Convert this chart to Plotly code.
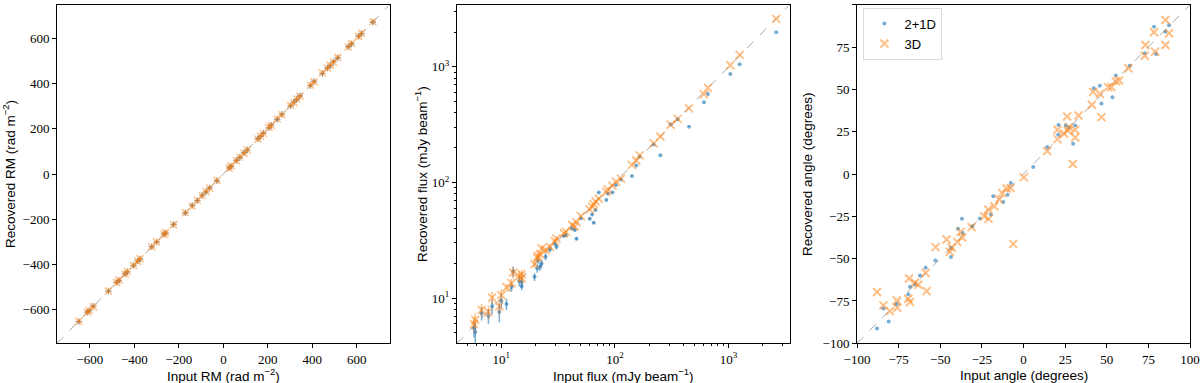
import math
import plotly.graph_objects as go

BLUE = "rgba(31,119,180,0.6)"
ORANGE = "rgba(255,127,14,0.5)"

# --- panel 1: rotation measure ---
rm_in = [-650, -612, -603, -585, -517, -480, -470, -442, -432, -404, -385, -375,
         -322, -300, -267, -260, -224, -171, -140, -117, -95, -78, -62, -29,
         26, 35, 59, 74, 93, 107, 155, 167, 180, 205, 215, 242, 263, 302, 317,
         330, 344, 391, 408, 445, 468, 480, 495, 514, 562, 576, 608, 621, 672]
rm_rec_21d = [-652, -610, -604, -584, -518, -479, -471, -441, -433, -405, -384, -376,
              -321, -301, -266, -261, -223, -172, -139, -118, -94, -79, -61, -30,
              27, 34, 60, 73, 94, 106, 156, 166, 181, 204, 216, 241, 264, 301, 318,
              329, 345, 390, 409, 444, 469, 479, 496, 513, 563, 575, 609, 620, 671]
rm_rec_3d = [-651, -611, -603, -586, -517, -480, -469, -442, -431, -404, -386, -374,
             -322, -300, -268, -259, -224, -171, -141, -117, -95, -77, -62, -29,
             26, 36, 59, 75, 92, 107, 154, 168, 179, 206, 215, 243, 262, 303, 316,
             331, 344, 392, 407, 446, 467, 481, 494, 515, 561, 577, 607, 622, 673]
rm_err = 14

# --- panel 2: flux ---
flux_in = [2625, 1250, 1035, 657, 607, 448, 356, 309, 251, 219, 165, 154, 141,
           113, 102, 95, 86.5, 84, 72, 67.4, 65, 63, 60, 50.1, 45.9, 44.4, 41.8,
           37, 35.5, 30.6, 29.6, 26.8, 24.5, 22.6, 21.9, 21.0, 20.7, 19.6, 15.1,
           15.1, 14.4, 12.7, 12.3, 11.1, 10.0, 9.6, 8.3, 7.7, 6.7, 5.9, 5.75]
flux_rec_3d = [2606, 1270, 1033, 658, 580, 438, 355, 316, 250, 218, 172, 155, 142,
               108, 102, 94, 87.3, 83, 72.4, 68.7, 65, 61.8, 58.6, 51.3, 45.2, 41.5,
               43.1, 37.5, 36.3, 32.7, 31.0, 27.8, 26.0, 26.9, 24.0, 23.1, 22.3,
               19.7, 16.1, 14.8, 15.5, 16.6, 13.5, 12.4, 10.6, 8.5, 10.1, 7.6, 7.9,
               6.5, 5.96]
flux_rec_21d = [1995, 1055, 869, 583, 494, 304, 352, 318, 172, 213, 168, 140, 114,
                106, 95, 82, 80.5, 70.5, 82, 57.8, 44.9, 53, 48.6, 49, 32.7, 38.8,
                40.1, 35.1, 34.6, 27.8, 29.7, 26.5, 22.8, 19.9, 18.7, 21.3, 18.1,
                15.3, 12.7, 13.8, 14.1, 17.0, 12.5, 8.9, 9.5, 7.6, 8.5, 7.0, 7.4,
                5.1, 5.5]
flux_err_3d = [3, 2, 2, 2, 2, 2, 1, 1, 1, 1, 1, 1, 1, 1, 1, 1, 1, 1, 1, 1, 1, 1,
               1, 1, 1, 1, 1, 1, 1, 1.5, 1.5, 1.5, 1.5, 1.5, 1.5, 1.5, 1.5, 1.5,
               1.5, 1.5, 1.5, 1.8, 1.2, 1.0, 1.2, 1.2, 1.2, 1.0, 1.0, 0.9, 0.9]
flux_err_21d = [3, 2, 2, 2, 2, 2, 1, 1, 1, 1, 1, 1, 1, 1, 1, 1, 1, 1, 1, 1, 1, 1,
                1, 1, 1, 1, 1, 1, 1, 1.5, 1.5, 1.5, 1.5, 1.5, 1.5, 1.5, 1.5, 1.2,
                1.0, 1.4, 1.4, 1.8, 1.2, 1.0, 1.5, 1.4, 1.2, 1.0, 1.0, 1.0, 0.9]

# --- panel 3: polarisation angle ---
ang_in_3d = [85.2, 78.4, 87.4, 73.2, 79.0, 85.2, 72.8, 63.0, 57.4, 55.4, 52.8,
             50.8, 45.8, 46.8, 41.8, 41.0, 33.0, 26.2, 31.0, 31.0, 26.6, 24.4,
             20.4, 20.4, 27.2, 29.6, 14.2, 0.2, -7.8, -10.2, -12.8, -14.6, -17.6,
             -21.2, -21.0, -23.6, -31.2, -36.8, -39.8, -37.8, -43.2, -52.8, -46.2,
             -44.2, -6.2, -58.8, -58.2, -63.2, -65.2, -68.8, -68.2, -69.2, -76.2,
             -75.8, -80.2, -84.2, -88.0]
ang_rec_3d = [91.0, 83.7, 83.1, 76.2, 72.3, 76.2, 69.9, 62.5, 55.2, 54.8, 51.3,
              51.3, 47.3, 33.6, 48.5, 40.9, 34.6, 34.0, 26.1, 21.6, 25.7, 23.8,
              26.1, 20.6, 27.7, 5.9, 13.6, -2.0, -8.3, -8.6, -11.2, -15.1, -19.1,
              -21.0, -26.5, -25.0, -31.4, -37.5, -40.1, -34.2, -43.6, -43.2, -38.7,
              -46.0, -41.3, -58.3, -69.2, -65.4, -64.2, -61.7, -75.6, -73.7, -74.7,
              -79.0, -81.0, -77.6, -69.7]
ang_in_21d = [78.4, 85.2, 79.6, 72.8, 87.4, 63.8, 55.4, 53.4, 46.8, 45.8, 42.2,
              21.0, 25.4, 27.2, 29.8, 31.0, 14.2, 20.8, 5.8, -7.6, -9.6, -12.2,
              -18.2, -19.6, -26.2, -30.8, -37.0, -39.4, -36.6, -43.6, -43.6, -53.0,
              -58.8, -62.2, -65.2, -68.2, -69.2, -76.2, -81.0, -84.2, -88.0]
ang_rec_21d = [87.0, 84.1, 70.9, 71.3, 87.8, 64.0, 58.2, 45.4, 41.7, 52.1, 50.7,
               28.9, 28.7, 27.5, 17.9, 28.7, 15.9, 23.2, 4.1, -5.3, -12.2, -16.5,
               -13.2, -24.0, -26.3, -30.8, -26.5, -32.4, -34.8, -49.1, -43.6, -51.1,
               -55.4, -59.9, -65.2, -66.6, -71.1, -77.0, -87.2, -79.4, -91.2]

rm_lim = [-748, 748]
flux_lim = [4.07, 3450]
ang_lim = [-100, 100]

x_titles = ["Input RM (rad m<sup>−2</sup>)", "Input flux (mJy beam<sup>−1</sup>)",
            "Input angle (degrees)"]
y_titles = ["Recovered RM (rad m<sup>−2</sup>)", "Recovered flux (mJy beam<sup>−1</sup>)",
            "Recovered angle (degrees)"]

DIAG = dict(color="rgba(150,150,150,0.8)", width=1, dash="dash")

fig = go.Figure()

# panel 1
fig.add_trace(go.Scatter(x=rm_lim, y=rm_lim, mode="lines", showlegend=False, line=DIAG,
                         xaxis="x", yaxis="y", hoverinfo="skip"))
fig.add_trace(go.Scatter(x=rm_in, y=rm_rec_21d, mode="markers", showlegend=False,
                         marker=dict(color=BLUE, size=3),
                         error_x=dict(type="constant", value=rm_err, color=BLUE, thickness=1.2, width=0),
                         error_y=dict(type="constant", value=rm_err, color=BLUE, thickness=1.2, width=0),
                         xaxis="x", yaxis="y"))
fig.add_trace(go.Scatter(x=rm_in, y=rm_rec_3d, mode="markers", showlegend=False,
                         marker=dict(color=ORANGE, size=7, symbol="x-thin", line=dict(color=ORANGE, width=1.5)),
                         error_x=dict(type="constant", value=rm_err, color=ORANGE, thickness=1.2, width=0),
                         error_y=dict(type="constant", value=rm_err, color=ORANGE, thickness=1.2, width=0),
                         xaxis="x", yaxis="y"))

# panel 2
fig.add_trace(go.Scatter(x=flux_lim, y=flux_lim, mode="lines", showlegend=False, line=DIAG,
                         xaxis="x2", yaxis="y2", hoverinfo="skip"))
fig.add_trace(go.Scatter(x=flux_in, y=flux_rec_21d, mode="markers", showlegend=False,
                         marker=dict(color=BLUE, size=4),
                         error_y=dict(type="data", array=flux_err_21d, color=BLUE, thickness=1.5, width=0),
                         xaxis="x2", yaxis="y2"))
fig.add_trace(go.Scatter(x=flux_in, y=flux_rec_3d, mode="markers", showlegend=False,
                         marker=dict(color=ORANGE, size=8, symbol="x-thin", line=dict(color=ORANGE, width=1.8)),
                         error_y=dict(type="data", array=flux_err_3d, color=ORANGE, thickness=1.5, width=0),
                         xaxis="x2", yaxis="y2"))

# panel 3
fig.add_trace(go.Scatter(x=ang_lim, y=ang_lim, mode="lines", showlegend=False, line=DIAG,
                         xaxis="x3", yaxis="y3", hoverinfo="skip"))
fig.add_trace(go.Scatter(x=ang_in_21d, y=ang_rec_21d, mode="markers", name="2+1D",
                         marker=dict(color=BLUE, size=4),
                         xaxis="x3", yaxis="y3"))
fig.add_trace(go.Scatter(x=ang_in_3d, y=ang_rec_3d, mode="markers", name="3D",
                         marker=dict(color=ORANGE, size=8, symbol="x-thin", line=dict(color=ORANGE, width=2)),
                         xaxis="x3", yaxis="y3"))

tick_font = dict(family="Liberation Serif", size=13, color="black")
title_font = dict(family="Liberation Sans", size=13.5, color="black")
ax_common = dict(showgrid=False, zeroline=False, showline=True, linecolor="black",
                 linewidth=1, mirror=True, ticks="outside", ticklen=4, tickcolor="black",
                 tickfont=tick_font, automargin=False)

minor_vals = [v * 10 ** e for e in range(0, 4) for v in range(2, 10)]
log_ticks = [10, 100, 1000]
log_text = ["10<sup>1</sup>", "10<sup>2</sup>", "10<sup>3</sup>"]
log_range = [math.log10(flux_lim[0]), math.log10(flux_lim[1])]
minor_log = dict(tickvals=minor_vals, ticks="outside", ticklen=2, tickcolor="black")

x_domains = [[0.0475, 0.3248], [0.3808, 0.6581], [0.7142, 0.9917]]
ytitle_x = [9, 421, 808]
yd = [0.1037, 0.9877]

annotations = []
for i in range(3):
    d = x_domains[i]
    annotations.append(dict(text=x_titles[i], xref="paper", yref="paper",
                            x=(d[0] + d[1]) / 2, y=1 - 375 / 383, showarrow=False,
                            xanchor="center", yanchor="middle", font=title_font))
    annotations.append(dict(text=y_titles[i], xref="paper", yref="paper",
                            x=ytitle_x[i] / 1200, y=(yd[0] + yd[1]) / 2, showarrow=False,
                            textangle=-90, xanchor="center", yanchor="middle", font=title_font))

fig.update_layout(
    width=1200, height=383,
    margin=dict(l=0, r=0, t=0, b=0, autoexpand=False),
    paper_bgcolor="white", plot_bgcolor="white",
    annotations=annotations,
    xaxis=dict(ax_common, domain=x_domains[0], range=rm_lim, anchor="y",
               tickvals=[-600, -400, -200, 0, 200, 400, 600]),
    yaxis=dict(ax_common, domain=yd, range=rm_lim, anchor="x",
               tickvals=[-600, -400, -200, 0, 200, 400, 600]),
    xaxis2=dict(ax_common, domain=x_domains[1], type="log", range=log_range, anchor="y2",
                tickvals=log_ticks, ticktext=log_text, minor=minor_log),
    yaxis2=dict(ax_common, domain=yd, type="log", range=log_range, anchor="x2",
                tickvals=log_ticks, ticktext=log_text, minor=minor_log),
    xaxis3=dict(ax_common, domain=x_domains[2], range=ang_lim, anchor="y3",
                tickvals=[-100, -75, -50, -25, 0, 25, 50, 75, 100]),
    yaxis3=dict(ax_common, domain=yd, range=ang_lim, anchor="x3",
                tickvals=[-100, -75, -50, -25, 0, 25, 50, 75, 100]),
    legend=dict(x=0.7195, y=0.98, xanchor="left", yanchor="top", itemwidth=30,
                bordercolor="rgb(220,220,220)", borderwidth=1, bgcolor="white",
                tracegroupgap=0, font=dict(family="Liberation Sans", size=13, color="black")),
)

# the page body has a default 8px margin; drop it so the figure fills the window
fig.write_html("out.html", config={"displayModeBar": False},
               post_script="document.body.style.margin='0';document.body.style.overflow='hidden';")
